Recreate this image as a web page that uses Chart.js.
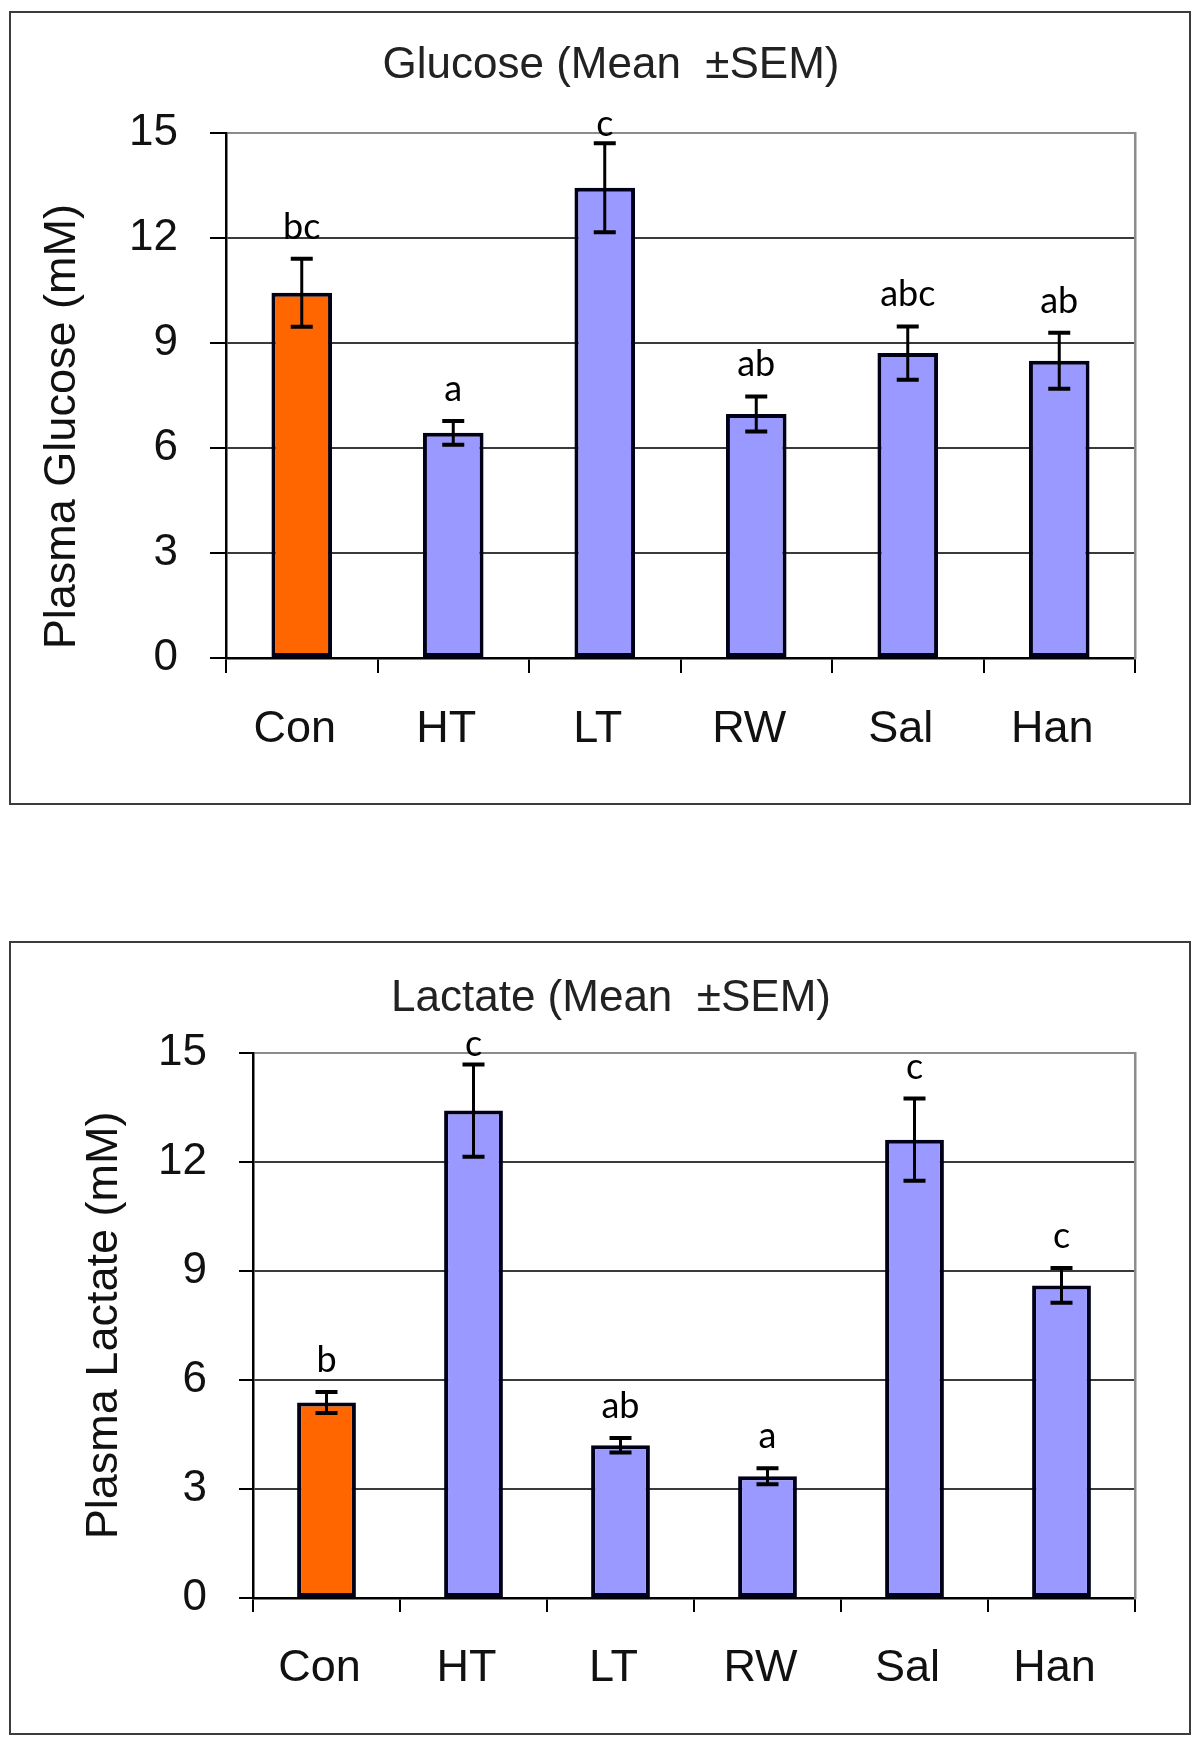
<!DOCTYPE html>
<html>
<head>
<meta charset="utf-8">
<script src="https://cdn.jsdelivr.net/npm/chart.js@4.4.1/dist/chart.umd.min.js"></script>
<style>
  body { margin: 0; background: #fff; width: 1200px; height: 1743px; position: relative; }
  .panel { position: absolute; left: 11px; width: 1178px; height: 790px; outline: 2px solid #3c3c3c; background: #fff; }
</style>
</head>
<body>
<div class="panel" style="top:13px"><canvas id="glucose" width="1178" height="790"></canvas></div>
<div class="panel" style="top:943px"><canvas id="lactate" width="1178" height="790"></canvas></div>
<script>
const groups = ["Con", "HT", "LT", "RW", "Sal", "Han"];

const glucoseMean = [10.43, 6.43, 13.43, 6.97, 8.71, 8.49];
const glucoseSem = [0.97, 0.34, 1.27, 0.5, 0.76, 0.8];
const glucoseLetters = ["bc", "a", "c", "ab", "abc", "ab"];

const lactateMean = [5.38, 13.41, 4.2, 3.35, 12.61, 8.6];
const lactateSem = [0.29, 1.27, 0.2, 0.22, 1.13, 0.48];
const lactateLetters = ["b", "c", "ab", "a", "c", "c"];

const orange = "#ff6600";
const blue = "#9999ff";
const barColors = groups.map((g, i) => (i === 0 ? orange : blue));
const sans = "'Liberation Sans', Arial, sans-serif";

// draws the SEM whiskers and the significance letters above each bar
const errorBars = {
    id: "errorBars",
    afterDatasetsDraw(chart) {
        const ctx = chart.ctx;
        const y = chart.scales.y;
        const ds = chart.data.datasets[0];
        const meta = chart.getDatasetMeta(0);
        ctx.save();
        ctx.strokeStyle = "#000";
        meta.data.forEach((bar, i) => {
            const top = y.getPixelForValue(ds.data[i] + ds.sem[i]);
            const bot = y.getPixelForValue(ds.data[i] - ds.sem[i]);
            ctx.lineWidth = 3;
            ctx.beginPath();
            ctx.moveTo(bar.x, top);
            ctx.lineTo(bar.x, bot);
            ctx.stroke();
            ctx.lineWidth = 4;
            ctx.beginPath();
            ctx.moveTo(bar.x - 11, top);
            ctx.lineTo(bar.x + 11, top);
            ctx.moveTo(bar.x - 11, bot);
            ctx.lineTo(bar.x + 11, bot);
            ctx.stroke();
            ctx.font = "36px Lato, 'Open Sans', sans-serif";
            ctx.fillStyle = "#000";
            ctx.textAlign = "center";
            ctx.textBaseline = "alphabetic";
            ctx.fillText(ds.letters[i], bar.x, Math.max(top - 20, chart.chartArea.top + 3));
        });
        ctx.restore();
    },
};

function makeChart(id, title, yTitle, means, sems, letters, g) {
    return new Chart(document.getElementById(id).getContext("2d"), {
        type: "bar",
        data: {
            labels: groups,
            datasets: [
                {
                    data: means,
                    sem: sems,
                    letters: letters,
                    backgroundColor: barColors,
                    borderColor: "#000018",
                    borderWidth: 4,
                    borderSkipped: false,
                    barPercentage: 0.4,
                    categoryPercentage: 1,
                },
            ],
        },
        options: {
            responsive: false,
            animation: false,
            devicePixelRatio: 1,
            layout: { padding: { left: 22, right: 0, top: 0, bottom: 0 } },
            plugins: {
                legend: { display: false },
                tooltip: { enabled: false },
                title: {
                    display: true,
                    text: title,
                    color: "#222",
                    font: { family: sans, size: 44, weight: "normal" },
                    padding: { top: g.titleTop, bottom: g.titleBottom },
                },
            },
            scales: {
                x: {
                    afterFit: (s) => { s.height = g.xHeight; },
                    grid: {
                        display: true,
                        drawOnChartArea: false,
                        drawTicks: true,
                        tickLength: g.xTick,
                        tickColor: "#000",
                        lineWidth: 2,
                    },
                    border: { color: "#000", width: 2.5 },
                    ticks: {
                        color: "#111",
                        padding: 30,
                        labelOffset: -7,
                        font: { family: sans, size: 45 },
                    },
                },
                y: {
                    min: 0,
                    max: 15,
                    afterFit: (s) => { s.width = g.yWidth; },
                    ticks: {
                        stepSize: 3,
                        color: "#111",
                        padding: 32,
                        font: { family: sans, size: 44 },
                    },
                    grid: {
                        color: (c) => (c.tick && c.tick.value === 15 ? "#8c8c8c" : "#3a3a3a"),
                        lineWidth: 2,
                        tickColor: "#000",
                        tickLength: g.yTick,
                    },
                    border: { color: "#000", width: 2.5 },
                    title: {
                        display: true,
                        text: yTitle,
                        color: "#111",
                        font: { family: sans, size: 45 },
                        padding: { top: g.yTitlePad, bottom: 0 },
                    },
                },
                y2: {
                    position: "right",
                    afterFit: (s) => { s.width = 54; },
                    grid: { display: false },
                    ticks: { display: false },
                    border: { color: "#8c8c8c", width: 2.5 },
                },
            },
        },
        plugins: [errorBars],
    });
}

makeChart("glucose", "Glucose (Mean  \u00b1SEM)", "Plasma Glucose (mM)     ",
    glucoseMean, glucoseSem, glucoseLetters,
    { titleTop: 26, titleBottom: 41, xHeight: 145, xTick: 15, yWidth: 193, yTick: 16, yTitlePad: 3 });

makeChart("lactate", "Lactate (Mean  \u00b1SEM)", "Plasma Lactate (mM)",
    lactateMean, lactateSem, lactateLetters,
    { titleTop: 29, titleBottom: 28, xHeight: 135, xTick: 14, yWidth: 220, yTick: 14, yTitlePad: 45 });
</script>
</body>
</html>
